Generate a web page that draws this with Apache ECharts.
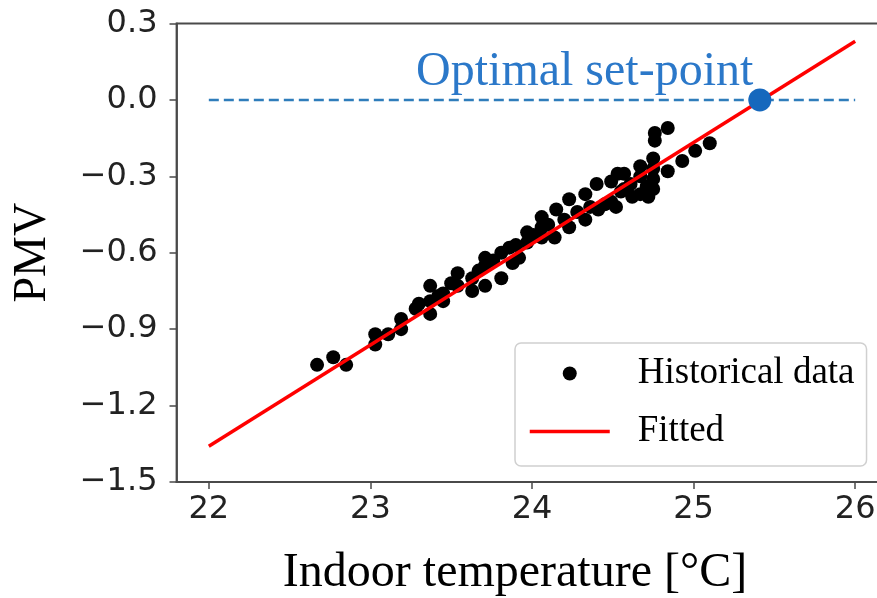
<!DOCTYPE html>
<html>
<head>
<meta charset="utf-8">
<script src="https://cdn.jsdelivr.net/npm/echarts@6/dist/echarts.min.js"></script>
<style>
html,body{margin:0;padding:0;background:#fff;}
#chart{width:877px;height:598px;}
</style>
</head>
<body>
<div id="chart"></div>
<script>
// Historical data (indoor temperature [°C], PMV)
var histTemp = [22.67,22.77,22.85,23.03,23.03,23.11,23.19,23.19,23.28,23.30,23.37,23.37,23.37,23.42,23.45,23.45,23.50,
  23.54,23.54,23.63,23.63,23.67,23.71,23.71,23.71,23.76,23.81,23.81,23.86,23.88,23.90,23.92,23.97,23.97,24.01,
  24.06,24.06,24.06,24.10,24.14,24.15,24.20,24.23,24.23,24.28,24.33,24.33,24.36,24.40,24.41,24.45,24.49,24.49,
  24.52,24.53,24.55,24.57,24.57,24.61,24.62,24.67,24.67,24.67,24.71,24.72,24.75,24.75,24.75,24.75,24.76,24.76,
  24.84,24.84,24.93,25.01,25.10];
var histPMV = [-1.04,-1.01,-1.04,-0.92,-0.96,-0.92,-0.86,-0.90,-0.82,-0.80,-0.73,-0.79,-0.84,-0.77,-0.76,-0.79,-0.72,
  -0.68,-0.73,-0.70,-0.75,-0.67,-0.62,-0.65,-0.73,-0.63,-0.60,-0.70,-0.58,-0.64,-0.57,-0.62,-0.52,-0.56,-0.53,
  -0.46,-0.50,-0.54,-0.49,-0.54,-0.43,-0.47,-0.39,-0.50,-0.44,-0.37,-0.47,-0.42,-0.33,-0.43,-0.41,-0.32,-0.40,
  -0.42,-0.29,-0.36,-0.29,-0.35,-0.33,-0.38,-0.26,-0.30,-0.37,-0.34,-0.38,-0.23,-0.27,-0.31,-0.35,-0.13,-0.16,
  -0.11,-0.28,-0.24,-0.20,-0.17];
// Fitted line endpoints
var fitTemp = [22, 26];
var fitPMV = [-1.36, 0.23];
// Reference PMV = 0 (dashed)
var refTemp = [22, 26];
var refPMV = [0, 0];
// Optimal set-point
var optTemp = [25.41];
var optPMV = [0];
// Ticks
var xTicks = [22, 23, 24, 25, 26];
var yTicks = [-1.5, -1.2, -0.9, -0.6, -0.3, 0.0, 0.3];

function zip(a, b) { return a.map(function (v, i) { return [v, b[i]]; }); }

var chart = echarts.init(document.getElementById('chart'), null, {renderer: 'canvas'});
var tickFont = {fontFamily: 'DejaVu Sans', fontSize: 32, color: '#222'};
var axisCol = '#4a4a4a';
chart.setOption({
  animation: false,
  backgroundColor: '#fff',
  grid: {left: 176.5, top: 23.5, width: 711, height: 458.5, show: true, borderColor: axisCol, borderWidth: 1.8,
    backgroundColor: 'transparent', containLabel: false, outerBoundsMode: 'none'},
  xAxis: {
    type: 'value', min: 21.8, max: 26.2,
    name: 'Indoor temperature [°C]', nameLocation: 'middle', nameGap: 67,
    nameTextStyle: {fontFamily: 'Liberation Serif', fontSize: 48, color: '#000', padding: [0, 34, 0, 0]},
    axisLine: {show: true, onZero: false, lineStyle: {color: axisCol, width: 1.8}},
    axisTick: {show: true, inside: false, length: 7, customValues: xTicks, lineStyle: {color: axisCol, width: 1.5}},
    axisLabel: Object.assign({margin: 12, customValues: xTicks, formatter: function (v) { return String(Math.round(v)); }}, tickFont),
    splitLine: {show: false}
  },
  yAxis: {
    type: 'value', min: -1.5, max: 0.3,
    name: 'PMV', nameLocation: 'middle', nameGap: 121, nameRotate: 90,
    nameTextStyle: {fontFamily: 'Liberation Serif', fontSize: 46, color: '#000'},
    axisLine: {show: true, onZero: false, lineStyle: {color: axisCol, width: 1.8}},
    axisTick: {show: true, inside: false, length: 7, customValues: yTicks, lineStyle: {color: axisCol, width: 1.5}},
    axisLabel: Object.assign({margin: 19, customValues: yTicks, formatter: function (v) {
      var r = Math.round(v * 10) / 10;
      return (r < 0 ? '\u2212' : '') + Math.abs(r).toFixed(1);
    }}, tickFont),
    splitLine: {show: false}
  },
  legend: {
    data: [
      {name: 'Historical data'},
      {name: 'Fitted', itemStyle: {color: 'rgba(0,0,0,0)', borderWidth: 0, opacity: 0},
        lineStyle: {color: '#ff0000', width: 3.5}}
    ],
    orient: 'vertical', left: 515, top: 343,
    padding: [12, 12, 16, 13],
    itemWidth: 80, itemHeight: 14, itemGap: 21,
    backgroundColor: 'rgba(255,255,255,0.85)', borderColor: '#d0d0d0', borderWidth: 1.5, borderRadius: 6,
    textStyle: {fontFamily: 'Liberation Serif', fontSize: 37, color: '#000', padding: [0, 0, 0, 23]}
  },
  series: [
    {
      name: 'Historical data', type: 'scatter', z: 2,
      data: zip(histTemp, histPMV), symbol: 'circle', symbolSize: 14,
      itemStyle: {color: '#000', opacity: 1}
    },
    {
      name: 'PMV=0', type: 'line', z: 3, data: zip(refTemp, refPMV), showSymbol: false, symbol: 'none',
      lineStyle: {color: '#2f7dbb', width: 2.5, type: [10, 5]}
    },
    {
      name: 'Fitted', type: 'line', z: 4, data: zip(fitTemp, fitPMV), showSymbol: false, symbol: 'none',
      itemStyle: {color: '#ff0000'},
      lineStyle: {color: '#ff0000', width: 3.5}
    },
    {
      name: 'Optimal set-point', type: 'scatter', z: 5, data: zip(optTemp, optPMV), symbolSize: 23,
      itemStyle: {color: '#1668bd', opacity: 1},
      label: {show: true, position: 'left', distance: 0, offset: [5, -28], formatter: 'Optimal set-point',
        fontFamily: 'Liberation Serif', fontSize: 48, color: '#2b78c9'}
    }
  ]
});
</script>
</body>
</html>
